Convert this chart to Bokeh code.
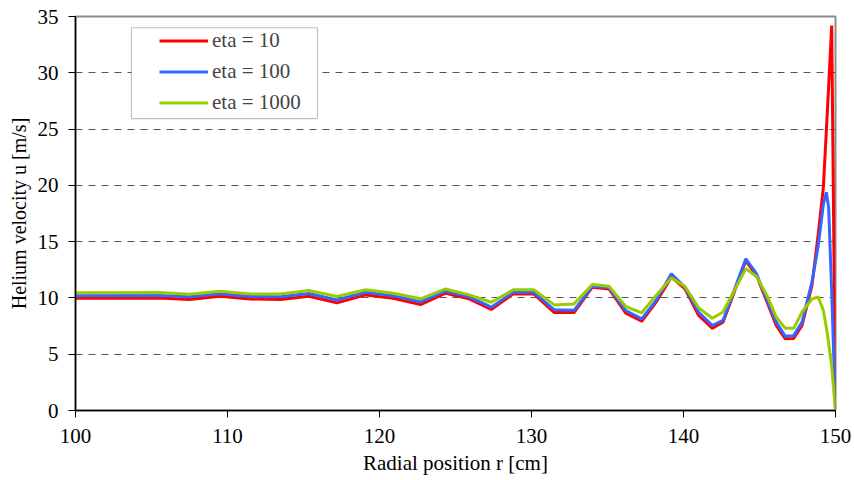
from bokeh.plotting import figure
from bokeh.models import Legend, LegendItem, FixedTicker, BoxAnnotation, Range1d
from bokeh.embed import file_html
from bokeh.resources import INLINE

# Radial position r [cm]
r = [100.0, 105.5, 107.5, 109.5, 111.5, 113.5, 115.35, 117.2, 119.1, 120.9,
     122.7, 124.35, 125.9, 127.35, 128.8, 130.15, 131.5, 132.8, 134.0, 135.1,
     136.2, 137.25, 138.2, 139.2, 140.1, 141.0, 141.9, 142.6, 144.1, 144.8,
     145.5, 146.1, 146.7, 147.25, 147.8, 148.45, 148.85, 149.2, 149.4, 149.55,
     149.75, 150.0]

u_eta10 = [9.97, 10.0, 9.86, 10.15, 9.9, 9.86, 10.15, 9.56, 10.27, 9.97,
           9.41, 10.42, 9.92, 8.97, 10.36, 10.36, 8.7, 8.7, 10.95, 10.8,
           8.64, 7.93, 9.62, 11.84, 10.8, 8.44, 7.3, 7.85, 13.3, 12.0,
           9.62, 7.55, 6.37, 6.4, 7.55, 11.1, 15.5, 19.8, 24.9, 28.8,
           34.2, 0.0]

u_eta100 = [10.2, 10.22, 10.1, 10.38, 10.12, 10.1, 10.4, 9.82, 10.5, 10.2,
            9.65, 10.6, 10.1, 9.18, 10.5, 10.5, 8.94, 8.9, 11.04, 10.92,
            8.88, 8.14, 9.77, 12.14, 10.95, 8.73, 7.55, 8.0, 13.47, 12.15,
            9.8, 7.85, 6.6, 6.65, 7.85, 11.4, 14.5, 18.3, 19.4, 18.0,
            10.5, 0.0]

u_eta1000 = [10.45, 10.48, 10.33, 10.6, 10.36, 10.36, 10.66, 10.12, 10.72, 10.42,
             9.92, 10.8, 10.27, 9.62, 10.72, 10.72, 9.38, 9.47, 11.19, 11.04,
             9.24, 8.68, 10.21, 11.78, 11.01, 9.12, 8.2, 8.75, 12.6, 11.9,
             10.2, 8.3, 7.3, 7.3, 8.75, 9.9, 10.1, 8.9, 7.35, 6.0,
             3.9, 0.0]

series_labels = ["eta = 10", "eta = 100", "eta = 1000"]
series_colors = ["#FF0000", "#3366FF", "#99CC00"]

x_ticks = [100, 110, 120, 130, 140, 150]
y_ticks = [0, 5, 10, 15, 20, 25, 30, 35]
grid_ticks = [5, 10, 15, 20, 25, 30]

FONT = "'Liberation Serif', 'Times New Roman', serif"

p = figure(width=854, height=480, output_backend="svg", toolbar_location=None,
           x_range=Range1d(100, 150), y_range=Range1d(0, 35),
           min_border_left=75, min_border_right=19, min_border_top=16,
           min_border_bottom=70)

p.background_fill_color = "white"
p.border_fill_color = "white"
p.outline_line_color = "#8c8c8c"
p.outline_line_width = 2

p.xgrid.visible = False
p.ygrid.ticker = FixedTicker(ticks=grid_ticks)
p.ygrid.grid_line_color = "#555555"
p.ygrid.grid_line_dash = "7 6"
p.ygrid.grid_line_width = 1

for ax in (p.xaxis[0], p.yaxis[0]):
    ax.axis_line_color = "black"
    ax.axis_line_width = 1.5
    ax.major_tick_line_color = "black"
    ax.major_tick_out = 7
    ax.major_tick_in = 0
    ax.minor_tick_line_color = None
    ax.major_label_text_font = FONT
    ax.major_label_text_font_size = "21px"
    ax.major_label_text_color = "black"
    ax.axis_label_text_font = FONT
    ax.axis_label_text_font_style = "normal"
    ax.axis_label_text_color = "black"

p.xaxis.ticker = FixedTicker(ticks=x_ticks)
p.yaxis.ticker = FixedTicker(ticks=y_ticks)
p.xaxis.axis_label = "Radial position r [cm]"
p.yaxis.axis_label = "Helium velocity u [m/s]"
p.xaxis.axis_label_text_font_size = "21px"
p.yaxis.axis_label_text_font_size = "20px"
p.xaxis.major_label_standoff = 11
p.yaxis.major_label_standoff = 10
p.xaxis.axis_label_standoff = 5
p.yaxis.axis_label_standoff = 5

renderers = []
for ys, c in zip([u_eta10, u_eta100, u_eta1000], series_colors):
    renderers.append(p.line(r, ys, line_color=c, line_width=3))

# legend frame
p.add_layout(BoxAnnotation(left=103.68, right=115.92, bottom=25.93, top=34.0,
                           fill_color="white", fill_alpha=1.0,
                           line_color="#333333", line_width=1.2, level="overlay"))

legend = Legend(items=[LegendItem(label=l, renderers=[rr]) for l, rr in zip(series_labels, renderers)],
                location=(76, 287), padding=8, spacing=6, label_height=23,
                glyph_height=23, glyph_width=49, label_standoff=4,
                label_text_font=FONT, label_text_font_size="21px",
                border_line_alpha=0, background_fill_alpha=0, margin=0)
p.add_layout(legend)

open("out.html", "w").write(file_html(p, INLINE))
